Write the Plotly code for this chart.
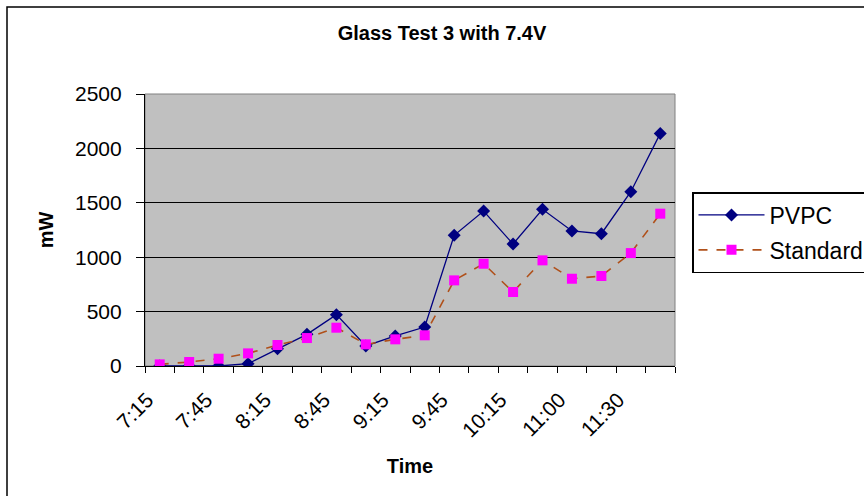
import plotly.graph_objects as go

times = ["7:15", "7:30", "7:45", "8:00", "8:15", "8:30", "8:45", "9:00", "9:15",
         "9:30", "9:45", "10:00", "10:15", "10:30", "11:00", "11:15", "11:30", "11:45"]
shown_labels = ["7:15", "7:45", "8:15", "8:45", "9:15", "9:45", "10:15", "11:00", "11:30"]
pvpc = [0, 0, 0, 21, 159, 291, 472, 184, 276, 358, 1201, 1424, 1121, 1440, 1241, 1216, 1602, 2138]
standard = [15, 37, 67, 116, 193, 257, 352, 199, 245, 282, 787, 940, 680, 971, 802, 827, 1038, 1400]

W, H = 864, 496
L, R, T, B = 145, 675, 94, 366

fig = go.Figure()
fig.add_trace(go.Scatter(
    x=times, y=pvpc, name="PVPC", mode="lines+markers",
    line=dict(color="#000080", width=1.3),
    marker=dict(symbol="diamond", size=10, color="#000080"),
    legendgroup="a"))
fig.add_trace(go.Scatter(
    x=times, y=standard, name="Standard", mode="lines+markers",
    line=dict(color="#B0501A", width=1.6, dash="dash"),
    marker=dict(symbol="square", size=10, color="#FF00FF"),
    legendgroup="b"))

def px_x(px):
    return (px - L) / (R - L)

def px_y(py):
    return (B - py) / (B - T)

fig.update_layout(
    width=W, height=H,
    margin=dict(l=L, r=W - R, t=T, b=H - B, autoexpand=False),
    paper_bgcolor="white",
    plot_bgcolor="#C0C0C0",
    font=dict(family="Liberation Sans, Arial, sans-serif", color="black", size=21),
    title=dict(text="<b>Glass Test 3 with 7.4V</b>", x=442 / W, xanchor="center",
               y=1 - 33 / H, yanchor="middle",
               font=dict(family="Liberation Sans, Arial, sans-serif", size=20)),
    showlegend=True,
    legend=dict(x=px_x(692), xanchor="left", y=px_y(192), yanchor="top",
                bgcolor="white", bordercolor="black", borderwidth=1.5,
                font=dict(size=23), tracegroupgap=2, traceorder="grouped",
                itemwidth=66),
    shapes=[dict(type="rect", xref="paper", yref="paper",
                 x0=px_x(7), x1=px_x(880), y0=px_y(510), y1=px_y(7),
                 line=dict(color="black", width=1.5), fillcolor="rgba(0,0,0,0)", layer="below")],
)

fig.update_xaxes(
    type="category", categoryorder="array", categoryarray=times,
    range=[-0.5, len(times) - 0.5], autorange=False,
    tickmode="array", tickvals=times,
    ticktext=[(t + "\u00a0\u00a0\u00a0") if t in shown_labels else "" for t in times],
    tickson="boundaries", ticks="outside", ticklen=6, tickcolor="black",
    tickangle=-45, tickfont=dict(size=21), ticklabelstandoff=0,
    showline=True, linecolor="black", linewidth=1.2, mirror=False,
    showgrid=False, zeroline=False,
    title=dict(text="<b>Time</b>", font=dict(size=20), standoff=18),
)
fig.update_yaxes(
    range=[0, 2500], dtick=500, tick0=0,
    ticks="outside", ticklen=8, tickcolor="black", tickfont=dict(size=21),
    ticklabelstandoff=10,
    showline=True, linecolor="black", linewidth=1.2,
    showgrid=True, gridcolor="black", gridwidth=1.3, zeroline=False,
    title=dict(text="<b>mW</b>", font=dict(size=20), standoff=15),
)
fig.add_shape(type="rect", xref="paper", yref="paper", x0=0, x1=1, y0=0, y1=1,
              line=dict(color="#808080", width=1), fillcolor="rgba(0,0,0,0)", layer="below")

fig.write_html("out.html", config={"displayModeBar": False},
               post_script="document.body.style.margin='0px';")
